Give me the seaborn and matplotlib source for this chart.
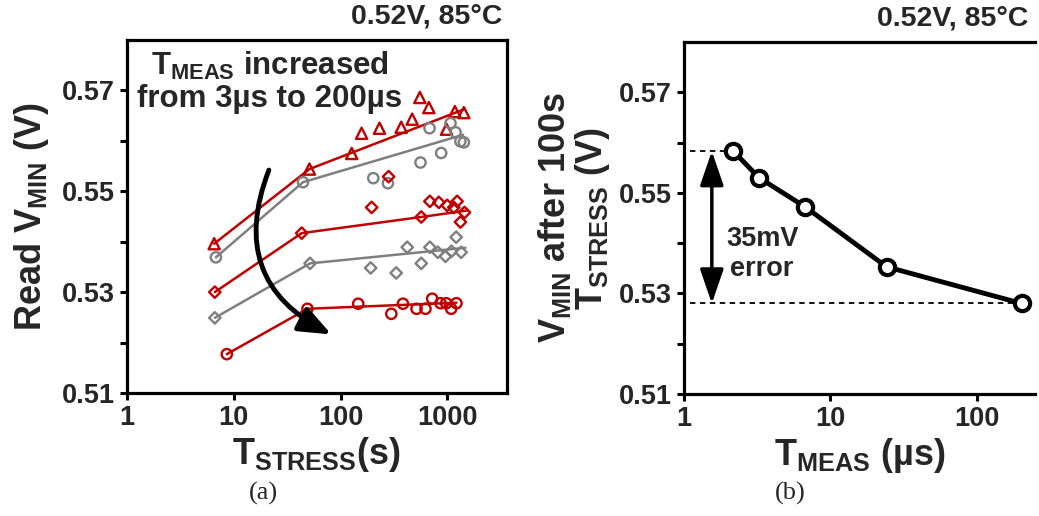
import numpy as np
import pandas as pd
import matplotlib
matplotlib.use("Agg")
import matplotlib.pyplot as plt
import seaborn as sns
from matplotlib.ticker import FixedLocator, NullLocator

RED = "#C00000"
GRAY = "#7F7F7F"

# ---- panel (a): raw points per T_MEAS ----
tri_x = [6.55, 51, 127, 157, 231, 369, 467, 551, 669, 979, 1172, 1423]
tri_y = [0.5396, 0.5544, 0.5575, 0.5615, 0.5625, 0.5627, 0.5643, 0.5686, 0.5666, 0.5623, 0.5658, 0.5656]
gcir_x = [6.8, 44.4, 202, 277, 559, 679, 873, 1067, 1189, 1321, 1423]
gcir_y = [0.5369, 0.5518, 0.5526, 0.5516, 0.5557, 0.5625, 0.5576, 0.5635, 0.5617, 0.5599, 0.5597]
rdia_x = [6.64, 43.2, 195, 281, 568, 684, 830, 993, 1145, 1230, 1442, 1322]
rdia_y = [0.5300, 0.5417, 0.5468, 0.5529, 0.5449, 0.5480, 0.5478, 0.5472, 0.5468, 0.5480, 0.5458, 0.5439]
gdia_x = [6.64, 51.7, 191, 331, 568, 420, 684, 812, 958, 1089, 1205, 1343]
gdia_y = [0.5249, 0.5357, 0.5348, 0.5338, 0.5357, 0.5389, 0.5389, 0.5379, 0.5371, 0.5381, 0.5409, 0.5379]
rcir_x = [8.6, 48.9, 146, 298, 383, 513, 622, 719, 860, 973, 1083, 1213]
rcir_y = [0.5177, 0.5267, 0.5277, 0.5257, 0.5277, 0.5267, 0.5267, 0.5287, 0.5278, 0.5278, 0.5267, 0.5278]

# fitted trend lines
tri_fit_x = [6.55, 51, 1450]
tri_fit_y = [0.5396, 0.5544, 0.5663]
gcir_fit_x = [6.8, 44.4, 1400]
gcir_fit_y = [0.5369, 0.5518, 0.5612]
rdia_fit_x = [6.64, 43.2, 568, 1550]
rdia_fit_y = [0.5300, 0.5417, 0.5449, 0.5462]
gdia_fit_x = [6.64, 51.7, 1470]
gdia_fit_y = [0.5249, 0.5357, 0.5388]
rcir_fit_x = [8.6, 48.9, 1213]
rcir_fit_y = [0.5177, 0.5267, 0.5279]

# ---- panel (b) ----
tmeas = [2.17, 3.26, 6.74, 24.2, 203]
vmin_100s = [0.5583, 0.5530, 0.5472, 0.5353, 0.5280]

yticks = [0.51, 0.53, 0.55, 0.57]
yminor = [0.52, 0.54, 0.56]

sns.set_style("ticks")
plt.rcParams["font.family"] = ["Liberation Sans", "DejaVu Sans"]
plt.rcParams["font.weight"] = "bold"
plt.rcParams["axes.labelweight"] = "bold"
plt.rcParams["mathtext.fontset"] = "custom"
plt.rcParams["mathtext.rm"] = "Liberation Sans:bold"
plt.rcParams["mathtext.bf"] = "Liberation Sans:bold"
plt.rcParams["mathtext.it"] = "Liberation Sans:bold"
plt.rcParams["mathtext.default"] = "rm"

fig = plt.figure(figsize=(10.39, 5.16), dpi=100)
ax1 = fig.add_axes([0.1222, 0.2384, 0.3657, 0.6841])
ax2 = fig.add_axes([0.6583, 0.2364, 0.3378, 0.6822])


def style_axes(ax, xt, xlim):
    ax.set_xscale("log")
    ax.set_xlim(*xlim)
    ax.set_ylim(0.51, 0.58)
    ax.xaxis.set_major_locator(FixedLocator(xt))
    ax.xaxis.set_minor_locator(NullLocator())
    ax.set_xticklabels([str(v) for v in xt])
    ax.yaxis.set_major_locator(FixedLocator(yticks))
    ax.yaxis.set_minor_locator(FixedLocator(yminor))
    ax.set_yticklabels([f"{v:.2f}" for v in yticks])
    ax.tick_params(axis="both", which="both", direction="out", length=5, width=2.2,
                   labelsize=19.5, color="k")
    for s in ax.spines.values():
        s.set_linewidth(2.3)
        s.set_color("k")
    for lab in ax.get_xticklabels() + ax.get_yticklabels():
        lab.set_fontweight("bold")


style_axes(ax1, [1, 10, 100, 1000], (1, 3600))
style_axes(ax2, [1, 10, 100], (1, 250))
ax2.spines["right"].set_visible(False)

# panel (a) data
series = [
    (tri_x, tri_y, tri_fit_x, tri_fit_y, RED, "^", 65),
    (gcir_x, gcir_y, gcir_fit_x, gcir_fit_y, GRAY, "o", 55),
    (rdia_x, rdia_y, rdia_fit_x, rdia_fit_y, RED, "D", 34),
    (gdia_x, gdia_y, gdia_fit_x, gdia_fit_y, GRAY, "D", 34),
    (rcir_x, rcir_y, rcir_fit_x, rcir_fit_y, RED, "o", 55),
]
for px, py, fx, fy, col, mk, sz in series:
    sns.lineplot(x=fx, y=fy, color=col, lw=1.8, sort=False, ax=ax1)
    sns.scatterplot(x=px, y=py, marker=mk, s=sz, color=col, facecolor="none",
                    edgecolor=col, linewidth=1.7, ax=ax1, zorder=3)

ax1.annotate("", xy=(82, 0.5216), xytext=(21.3, 0.5542),
             arrowprops=dict(arrowstyle="-|>,head_length=0.75,head_width=0.3", lw=3.5,
                             color="k", mutation_scale=26,
                             connectionstyle="arc3,rad=0.45", shrinkA=0, shrinkB=0))
ax1.text(0.376, 0.881, "$T_{MEAS}$ increased\nfrom 3µs to 200µs", transform=ax1.transAxes,
         ha="center", va="center", fontsize=22.5, fontweight="bold", linespacing=1.05)

ax1.set_xlabel("$T_{STRESS}$(s)", fontsize=26, fontweight="bold", labelpad=3)
ax1.set_ylabel("Read $V_{MIN}$ (V)", fontsize=26, fontweight="bold", labelpad=8)
ax1.text(0.987, 1.03, "0.52V, 85°C", transform=ax1.transAxes, ha="right", va="bottom",
         fontsize=20.5, fontweight="bold")

# panel (b)
sns.lineplot(x=tmeas, y=vmin_100s, color="k", lw=3.5, sort=False, marker="o",
             markersize=11, markerfacecolor="white", markeredgecolor="k",
             markeredgewidth=3, ax=ax2, zorder=3)
ax2.plot([1.1, tmeas[0]], [vmin_100s[0]] * 2, ls="--", color="k", lw=1.3, dashes=(3, 2.5))
ax2.plot([1.1, tmeas[-1]], [vmin_100s[-1]] * 2, ls="--", color="k", lw=1.3, dashes=(3, 2.5))
ax2.annotate("", xy=(1.55, vmin_100s[-1]), xytext=(1.55, vmin_100s[0]),
             arrowprops=dict(arrowstyle="<|-|>,head_length=0.7,head_width=0.24", lw=2.5,
                             color="k", mutation_scale=30, shrinkA=0, shrinkB=0))
ax2.text(3.42, 0.5378, "35mV\nerror", ha="center", va="center", fontsize=19.5,
         fontweight="bold", linespacing=1.2)

ax2.set_xlabel("$T_{MEAS}$ (µs)", fontsize=26, fontweight="bold", labelpad=3)
ax2.set_ylabel("$V_{MIN}$ after 100s\n$T_{STRESS}$ (V)", fontsize=26, fontweight="bold",
               labelpad=5, linespacing=1.0)
ax2.text(0.98, 1.03, "0.52V, 85°C", transform=ax2.transAxes, ha="right", va="bottom",
         fontsize=20.5, fontweight="bold")

fig.text(263 / 1039, 1 - 493 / 516, "(a)", family="Liberation Serif", fontweight="normal",
         fontsize=19, ha="center", va="center")
fig.text(790 / 1039, 1 - 493 / 516, "(b)", family="Liberation Serif", fontweight="normal",
         fontsize=19, ha="center", va="center")

fig.savefig("out.png", dpi=100)
